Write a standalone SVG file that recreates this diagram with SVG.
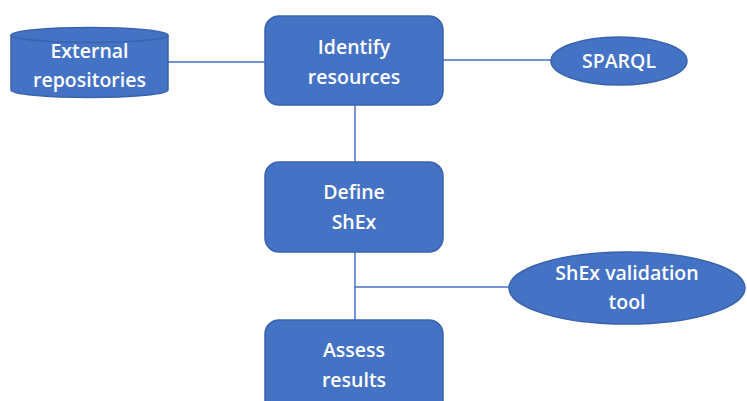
<svg xmlns="http://www.w3.org/2000/svg" width="747" height="401" viewBox="0 0 747 401">
<style>
.n{fill:#4472C4;stroke:#3A63AE;stroke-width:1.5}
.t{fill:#fff;font-family:"Open Sans","Liberation Sans",sans-serif;font-size:19.5px;font-weight:600;text-anchor:middle}
.c{stroke:#4472C4;stroke-width:1.5;fill:none}
</style>
<rect width="747" height="401" fill="#fff"/>
<g id="connectors">
<line class="c" x1="168" y1="62" x2="265" y2="62"/>
<line class="c" x1="443" y1="60" x2="551" y2="60"/>
<line class="c" x1="355" y1="105" x2="355" y2="162"/>
<line class="c" x1="355" y1="252" x2="355" y2="320"/>
<line class="c" x1="355" y1="287" x2="509" y2="287"/>
</g>
<g id="external">
<path class="n" d="M11,35 A78.5,7.5 0 0 1 168,35 L168,90 A78.5,7.5 0 0 1 11,90 Z"/>
<path d="M11,35 A78.5,7.5 0 0 0 168,35" fill="none" stroke="#3A63AE" stroke-width="1.5"/>
<text class="t" x="89.5" y="58">External</text>
<text class="t" x="89.5" y="87">repositories</text>
</g>
<g id="identify">
<rect class="n" x="265" y="16" width="178" height="89" rx="14"/>
<text class="t" x="354" y="54">Identify</text>
<text class="t" x="354" y="84">resources</text>
</g>
<g id="sparql">
<ellipse class="n" cx="619" cy="61" rx="68" ry="24"/>
<text class="t" x="619" y="68">SPARQL</text>
</g>
<g id="define">
<rect class="n" x="265" y="162" width="178" height="90" rx="14"/>
<text class="t" x="354" y="199">Define</text>
<text class="t" x="354" y="229">ShEx</text>
</g>
<g id="validation">
<ellipse class="n" cx="627" cy="288" rx="118" ry="36"/>
<text class="t" x="627" y="280">ShEx validation</text>
<text class="t" x="627" y="309">tool</text>
</g>
<g id="assess">
<rect class="n" x="265" y="320" width="178" height="100" rx="14"/>
<text class="t" x="354" y="357">Assess</text>
<text class="t" x="354" y="387">results</text>
</g>
</svg>
